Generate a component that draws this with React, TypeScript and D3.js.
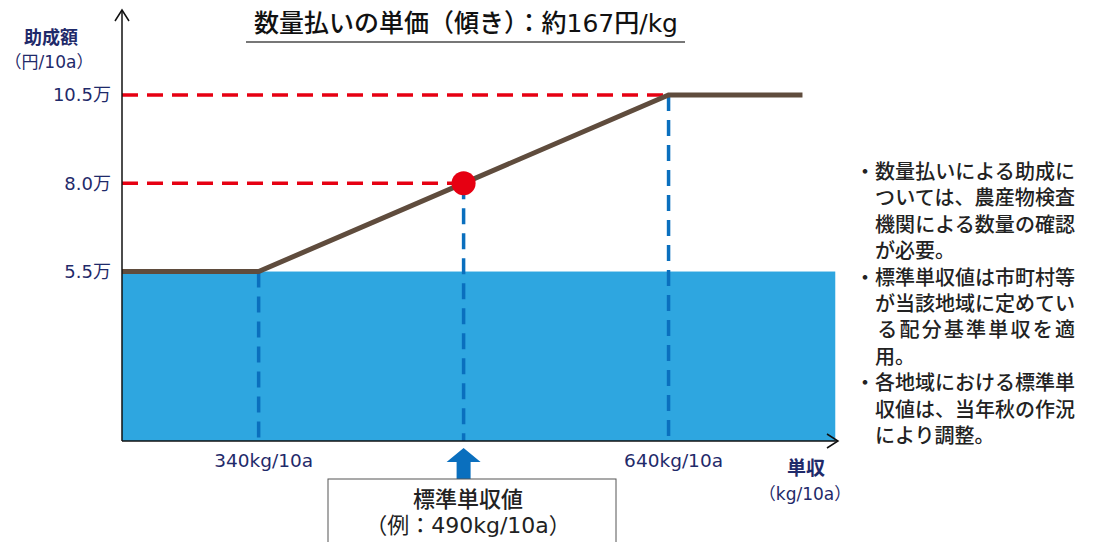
import React from 'react';
import * as d3 from 'd3';

// schematic: yield (kg/10a) vs subsidy (万円/10a)
const yieldPoints = [240, 340, 640, 738];
const subsidyPoints = [5.5, 5.5, 10.5, 10.5];
const yTickValues = [5.5, 8.0, 10.5];
const yTickLabels = ['5.5万', '8.0万', '10.5万'];
const xTickValues = [340, 640];
const xTickLabels = ['340kg/10a', '640kg/10a'];
const standardYield = 490;
const standardSubsidy = 8.0;
const baseSubsidy = 5.5;
const fillEnd = 762;

// [text, justified to full width?]
const noteLines: [string, boolean][] = [
  ['・数量払いによる助成に', true],
  ['　ついては、農産物検査', true],
  ['　機関による数量の確認', true],
  ['　が必要。', false],
  ['・標準単収値は市町村等', true],
  ['　が当該地域に定めてい', true],
  ['　る配分基準単収を適', true],
  ['　用。', false],
  ['・各地域における標準単', true],
  ['　収値は、当年秋の作況', true],
  ['　により調整。', false],
];

const FONT = '"DejaVu Sans", "Noto Sans CJK JP", sans-serif';
const CJK = '"Noto Sans CJK JP", sans-serif';
const NAVY = '#1f2a6a';

const App = () => {
  const x = d3.scaleLinear().domain([240, 764]).range([122, 838]);
  const y = d3.scaleLinear().domain([0.7, 10.5]).range([441, 95]);
  const x0 = x(240);
  const y0 = y(0.7);

  const linePath = d3.line<number>()
    .x(d => x(d))
    .y((d, i) => y(subsidyPoints[i]))(yieldPoints);

  const sx = x(standardYield);
  const sy = y(standardSubsidy);

  return (
    <svg width={1094} height={542} style={{ position: 'absolute', left: 0, top: 0, background: '#fff' }}
      fontFamily={FONT}>
      {/* blue base area */}
      <rect x={x0} y={y(baseSubsidy)} width={x(fillEnd) - x0} height={y0 - y(baseSubsidy)} fill="#2ea6e0" />

      {/* red guide lines */}
      <line x1={x0} x2={x(640)} y1={y(10.5)} y2={y(10.5)} stroke="#e60012" strokeWidth={3.5} strokeDasharray="16 9" />
      <line x1={x0} x2={sx} y1={sy} y2={sy} stroke="#e60012" strokeWidth={3.5} strokeDasharray="16 9" />

      {/* blue vertical guides */}
      {[
        { v: 340, top: baseSubsidy },
        { v: standardYield, top: standardSubsidy },
        { v: 640, top: 10.5 },
      ].map(d => (
        <line key={d.v} x1={x(d.v)} x2={x(d.v)} y1={y(d.top)} y2={y0}
          stroke="#0a6fbe" strokeWidth={3.5} strokeDasharray="16 9" />
      ))}

      {/* subsidy line */}
      <path d={linePath || ''} fill="none" stroke="#5f4c3d" strokeWidth={5} />
      <circle cx={sx} cy={sy} r={12} fill="#e60012" />

      {/* axes */}
      <line x1={x0} x2={x0} y1={y0} y2={10} stroke="#111" strokeWidth={1.5} />
      <polyline points={`${x0 - 7},21 ${x0},10 ${x0 + 7},21`} fill="none" stroke="#111" strokeWidth={1.5} />
      <line x1={x0} x2={838} y1={y0} y2={y0} stroke="#111" strokeWidth={1.5} />
      <polyline points={`827,434 838,${y0} 827,448`} fill="none" stroke="#111" strokeWidth={1.5} />

      {/* y ticks */}
      {yTickValues.map((v, i) => (
        <text key={v} x={111} y={y(v)} dy="0.36em" textAnchor="end" fontSize={18} fill={NAVY}>{yTickLabels[i]}</text>
      ))}
      <text x={51} y={44} textAnchor="middle" fontSize={18} fontFamily={CJK} fontWeight={700} fill={NAVY}>助成額</text>
      <text x={49} y={68} textAnchor="middle" fontSize={17} fill={NAVY}>{'\uFF08円/10a\uFF09'}</text>

      {/* x ticks */}
      {xTickValues.map((v, i) => (
        <text key={v} x={x(v) + 5} y={467} textAnchor="middle" fontSize={18.5} fill={NAVY}>{xTickLabels[i]}</text>
      ))}
      <text x={806} y={475} textAnchor="middle" fontSize={19} fontFamily={CJK} fontWeight={700} fill={NAVY}>単収</text>
      <text x={805} y={500} textAnchor="middle" fontSize={17} fill={NAVY}>{'\uFF08kg/10a\uFF09'}</text>

      {/* title */}
      <text x={466} y={32} textAnchor="middle" fontSize={25} fontWeight={500} fill="#111">
        {'数量払いの単価\uFF08傾き\uFF09\uFF1A約167円/kg'}
      </text>
      <line x1={246} x2={685} y1={42} y2={42} stroke="#777" strokeWidth={2} />

      {/* standard yield marker */}
      <path d={`M${sx},448 L${sx + 17},462 L${sx + 7},462 L${sx + 7},479 L${sx - 7},479 L${sx - 7},462 L${sx - 17},462 Z`} fill="#0a6fbe" />
      <rect x={328} y={479} width={288} height={80} fill="#fff" stroke="#555" strokeWidth={1} />
      <text x={468} y={507} textAnchor="middle" fontSize={22} fontFamily={CJK} fontWeight={500} fill="#222">標準単収値</text>
      <text x={468} y={533} textAnchor="middle" fontSize={22} fill="#222">{'\uFF08例\uFF1A490kg/10a\uFF09'}</text>

      {/* notes */}
      {noteLines.map(([t, full], i) => (
        <text key={i} x={855} y={172 + i * 26.4} dy="0.35em" fontSize={20} fontFamily={CJK} fontWeight={500} fill="#222"
          {...(full ? { textLength: 220, lengthAdjust: 'spacing' } : {})}>{t}</text>
      ))}
    </svg>
  );
};

export default App;
